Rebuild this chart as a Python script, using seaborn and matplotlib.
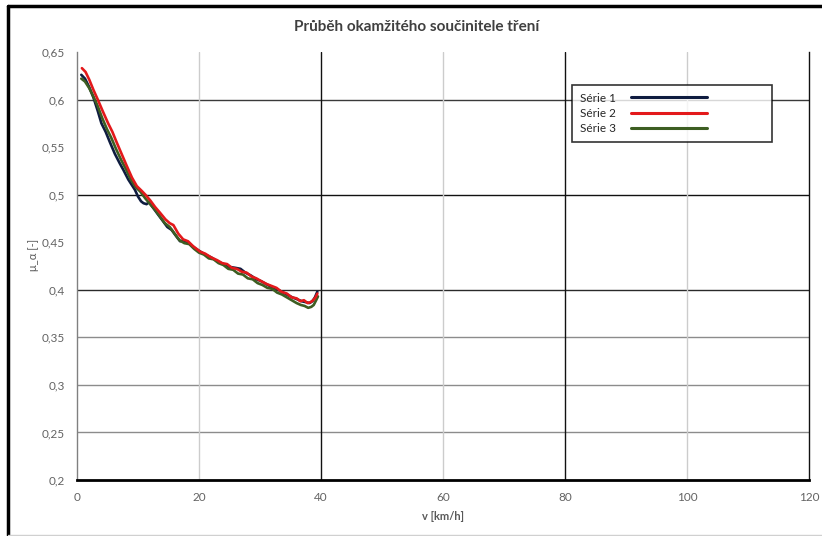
import numpy as np
import pandas as pd
import matplotlib
matplotlib.use("Agg")
import matplotlib.pyplot as plt
import seaborn as sns
from matplotlib.lines import Line2D

sns.set_theme(style="white")
plt.rcParams['font.family'] = ['Lato', 'DejaVu Sans']

# --- data ---
v1 = [0.7, 1.3, 2.0, 2.7, 3.4, 4.0, 4.7, 5.4, 6.2, 7.0, 7.6, 8.4, 9.0, 9.5, 10.0, 10.5,
      10.9, 11.4, 11.8, 12.5, 13.3, 14.0, 14.8, 15.5, 16.3, 16.9, 17.5, 18.2, 19.0, 20.0,
      21.0, 22.0, 23.0, 24.0, 25.0, 26.0, 26.8, 27.6, 28.5, 29.4, 30.2, 31.0, 31.9, 32.7,
      33.5, 34.4, 35.3, 36.1, 36.8, 37.5, 38.1, 38.6, 39.0, 39.4]
mu1 = [0.626, 0.622, 0.613, 0.602, 0.588, 0.575, 0.566, 0.555, 0.543, 0.533, 0.526, 0.516,
       0.510, 0.505, 0.498, 0.493, 0.491, 0.490, 0.492, 0.486, 0.479, 0.473, 0.466, 0.463,
       0.456, 0.451, 0.452, 0.450, 0.445, 0.441, 0.437, 0.434, 0.430, 0.427, 0.424, 0.423,
       0.422, 0.418, 0.415, 0.411, 0.409, 0.406, 0.403, 0.401, 0.398, 0.395, 0.392, 0.390,
       0.388, 0.387, 0.386, 0.388, 0.392, 0.398]

v2 = [0.8, 1.4, 2.0, 2.7, 3.4, 4.2, 5.1, 5.8, 6.5, 7.3, 8.1, 9.0, 9.8, 10.6, 11.2, 12.0,
      12.8, 13.6, 14.5, 15.2, 15.8, 16.6, 17.4, 18.2, 19.0, 20.2, 21.0, 22.0, 23.0, 23.8,
      24.6, 25.4, 26.2, 27.0, 27.8, 28.6, 29.4, 30.2, 31.1, 31.9, 32.7, 33.5, 34.4, 35.2,
      36.0, 36.6, 37.2, 37.8, 38.3, 38.7, 39.1, 39.4]
mu2 = [0.633, 0.629, 0.621, 0.610, 0.600, 0.588, 0.575, 0.566, 0.555, 0.543, 0.531, 0.518,
       0.509, 0.504, 0.500, 0.494, 0.487, 0.481, 0.474, 0.470, 0.468, 0.459, 0.453, 0.451,
       0.446, 0.440, 0.438, 0.434, 0.431, 0.428, 0.427, 0.423, 0.422, 0.419, 0.418, 0.414,
       0.412, 0.409, 0.406, 0.404, 0.402, 0.398, 0.396, 0.392, 0.391, 0.388, 0.389, 0.386,
       0.387, 0.389, 0.392, 0.396]

v3 = [0.7, 1.3, 2.0, 2.7, 3.4, 4.1, 4.9, 5.6, 6.4, 7.2, 8.0, 8.8, 9.6, 10.4, 11.2, 12.0,
      12.8, 13.6, 14.4, 15.2, 16.0, 16.8, 17.6, 18.4, 19.2, 20.0, 20.8, 21.6, 22.4, 23.2,
      24.0, 24.8, 25.6, 26.4, 27.2, 28.0, 28.8, 29.6, 30.4, 31.2, 32.0, 32.8, 33.6, 34.4,
      35.2, 36.0, 36.7, 37.3, 37.9, 38.4, 38.8, 39.2, 39.5]
mu3 = [0.622, 0.619, 0.612, 0.603, 0.593, 0.581, 0.569, 0.560, 0.548, 0.537, 0.527, 0.516,
       0.508, 0.503, 0.496, 0.490, 0.484, 0.477, 0.470, 0.466, 0.459, 0.452, 0.449, 0.448,
       0.443, 0.439, 0.437, 0.433, 0.432, 0.428, 0.426, 0.422, 0.421, 0.417, 0.416, 0.412,
       0.411, 0.407, 0.405, 0.402, 0.401, 0.397, 0.395, 0.392, 0.389, 0.386, 0.384, 0.383,
       0.381, 0.382, 0.384, 0.389, 0.393]

series = ["Série 1", "Série 2", "Série 3"]
colors = ["#0f1c40", "#e3191b", "#3d5e22"]

x_ticks = [0, 20, 40, 60, 80, 100, 120]
y_ticks = [0.2, 0.25, 0.3, 0.35, 0.4, 0.45, 0.5, 0.55, 0.6, 0.65]
y_labels = ["0,2", "0,25", "0,3", "0,35", "0,4", "0,45", "0,5", "0,55", "0,6", "0,65"]

df = pd.concat([
    pd.DataFrame({"v": v1, "mu": mu1, "s": series[0]}),
    pd.DataFrame({"v": v2, "mu": mu2, "s": series[1]}),
    pd.DataFrame({"v": v3, "mu": mu3, "s": series[2]}),
])

fig = plt.figure(figsize=(8.22, 5.36), dpi=100)
ax = fig.add_axes([0.0937, 0.1045, 0.8905, 0.7985])

# grid lines (as in the original: dark at some levels, grey at others)
for y, c in [(0.6, "#3a3a3a"), (0.5, "#111111"), (0.4, "#2a2a2a"),
             (0.35, "#8c8c8c"), (0.3, "#8c8c8c"), (0.25, "#8c8c8c")]:
    ax.axhline(y, color=c, lw=1, zorder=1)
for x, c in [(20, "#cccccc"), (40, "#111111"), (60, "#cccccc"),
             (80, "#111111"), (100, "#cccccc")]:
    ax.axvline(x, color=c, lw=1, zorder=1)

zorders = {"Série 1": 3, "Série 2": 5, "Série 3": 4}
for name, col in zip(series, colors):
    sub = df[df["s"] == name]
    sns.lineplot(data=sub, x="v", y="mu", color=col, lw=1.9, ax=ax,
                 label=name, sort=False, zorder=zorders[name])

ax.set_xlim(0, 120)
ax.set_ylim(0.2, 0.65)
ax.set_xticks(x_ticks)
ax.set_xticklabels([str(t) for t in x_ticks])
ax.set_yticks(y_ticks)
ax.set_yticklabels(y_labels)
ax.tick_params(axis="both", length=0, labelsize=8.5, colors="#636363", pad=9)
ax.set_xlabel("")
ax.set_ylabel("")

ax.spines["top"].set_visible(False)
ax.spines["left"].set_color("#808080")
ax.spines["left"].set_linewidth(1)
ax.spines["right"].set_color("#111111")
ax.spines["right"].set_linewidth(1)
ax.spines["bottom"].set_color("#000000")
ax.spines["bottom"].set_linewidth(2)

fig.text(0.507, 1 - 27 / 536, "Průběh okamžitého součinitele tření", ha="center", va="center",
         fontsize=11, fontweight="bold", color="#404040")
fig.text(0.539, 1 - 517 / 536, "v [km/h]", ha="center", va="center",
         fontsize=8, fontweight="bold", color="#595959")
fig.text(33 / 822, 1 - 255 / 536, "μ_α [-]", ha="center", va="center", rotation=90,
         fontsize=8, color="#595959")

leg = ax.legend(loc="upper left", bbox_to_anchor=(0.696, 0.7356, 0.243, 0.106),
                bbox_transform=fig.transFigure, mode="expand", markerfirst=False,
                borderaxespad=0, fontsize=8.5, frameon=True, fancybox=False,
                edgecolor="black", handlelength=6.4, handletextpad=1.3,
                labelspacing=0.35, borderpad=0.65)
leg.get_frame().set_linewidth(1.2)
for line in leg.get_lines():
    line.set_linewidth(2.2)

# outer frame of the original picture
fig.add_artist(Line2D([8 / 822, 8 / 822], [1 / 536, 1 - 6 / 536], color="black", lw=2.5))
fig.add_artist(Line2D([8 / 822, 1], [1 - 6 / 536, 1 - 6 / 536], color="black", lw=2.5))
fig.add_artist(Line2D([8 / 822, 1], [1 / 536, 1 / 536], color="#d0d0d0", lw=1))

fig.savefig("out.png", dpi=100, facecolor="white")
